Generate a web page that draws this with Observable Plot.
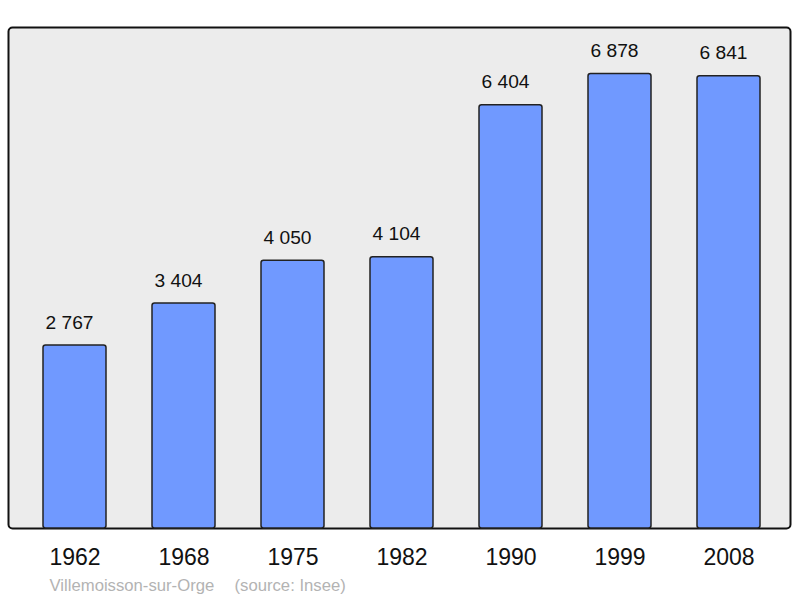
<!DOCTYPE html>
<html>
<head>
<meta charset="utf-8">
<script src="https://cdn.jsdelivr.net/npm/d3@7"></script>
<script src="https://cdn.jsdelivr.net/npm/@observablehq/plot@0.6"></script>
<style>
  html, body { margin: 0; padding: 0; background: #fff; }
  svg { display: block; }
</style>
</head>
<body>
<div id="chart"></div>
<script>
const years = ["1962", "1968", "1975", "1982", "1990", "1999", "2008"];
const population = [2767, 3404, 4050, 4104, 6404, 6878, 6841];
const place = "Villemoisson-sur-Orge";
const source = "(source: Insee)";

const data = years.map((y, i) => ({year: y, value: population[i]}));
const fmt = v => d3.format(",")(v).replace(/,/g, " ");

const chart = Plot.plot({
  width: 800,
  height: 598,
  marginLeft: 8,
  marginRight: 10,
  marginTop: 27,
  marginBottom: 70,
  style: {fontFamily: "'Liberation Sans', Arial, sans-serif", background: "#fff"},
  x: {domain: years, range: [18.6, 784.4], paddingInner: 0.424, paddingOuter: 0.212, axis: null},
  y: {domain: [0, 7580], axis: null},
  marks: [
    Plot.frame({fill: "#ececec", stroke: "#111", strokeWidth: 2, rx: 4}),
    Plot.barY(data, {x: "year", y: "value", fill: "#7099ff", stroke: "#222", strokeWidth: 1.5, rx: 2.5}),
    Plot.text(data, {x: "year", y: "value", text: d => fmt(d.value), lineAnchor: "bottom", dx: -5.5, dy: -17, fontSize: 19.2, fill: "#111"}),
    Plot.text(years, {x: d => d, frameAnchor: "bottom", lineAnchor: "bottom", dy: 36, fontSize: 23, fill: "#111"}),
    Plot.text([place], {frameAnchor: "bottom-left", textAnchor: "start", lineAnchor: "bottom", dx: 41, dy: 62, fontSize: 16.7, fill: "#b3b3b3"}),
    Plot.text([source], {frameAnchor: "bottom-left", textAnchor: "start", lineAnchor: "bottom", dx: 226, dy: 62, fontSize: 16.7, fill: "#b3b3b3"})
  ]
});
document.getElementById("chart").appendChild(chart);
</script>
</body>
</html>
